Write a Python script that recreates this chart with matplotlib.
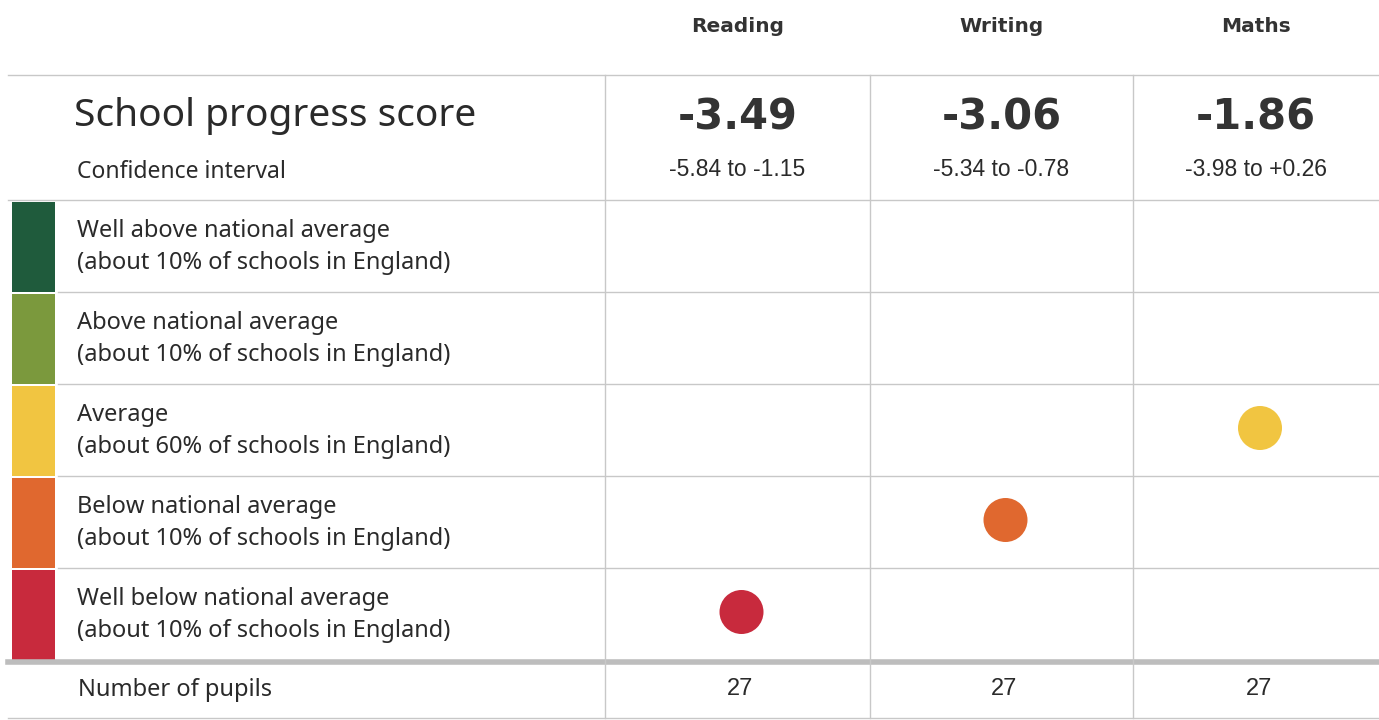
import matplotlib
matplotlib.use("Agg")
import matplotlib.pyplot as plt
from matplotlib.patches import Rectangle, Ellipse

subjects = ["Reading", "Writing", "Maths"]
scores = ["-3.49", "-3.06", "-1.86"]
ci_low = ["-5.84", "-5.34", "-3.98"]
ci_high = ["-1.15", "-0.78", "+0.26"]
pupils = [27, 27, 27]
band_names = [
    "Well above national average",
    "Above national average",
    "Average",
    "Below national average",
    "Well below national average",
]
band_share = ["10%", "10%", "60%", "10%", "10%"]
band_colors = ["#1f5b3c", "#7b993d", "#f1c541", "#e0682f", "#c82a3d"]
subject_band = [4, 3, 2]  # row index in band_names for each subject

plt.rcParams["font.family"] = ["Noto Sans", "DejaVu Sans"]
num_font = ["Liberation Sans", "DejaVu Sans"]
bold_font = ["DejaVu Sans"]
txt = "#2a2a2a"
grid = "#c8c8c8"

fig = plt.figure(figsize=(13.79, 7.2), dpi=100)
ax = fig.add_axes([0, 0, 1, 1])
ax.set_xlim(0, 1379)
ax.set_ylim(720, 0)
ax.axis("off")

# layout in pixels
col_edges = [605, 870, 1133, 1379]
col_mid = [(col_edges[i] + col_edges[i + 1]) / 2 for i in range(3)]
top_line = 75
score_bottom = 200
row_h = 92
band_top = [score_bottom + i * row_h for i in range(len(band_names))]
band_bottom = band_top[-1] + row_h
foot_bottom = 718

# header
for x, s in zip(col_mid, subjects):
    ax.text(x, 26, s, ha="center", va="center", fontsize=14.5,
            fontweight="bold", family=bold_font, color="#333333")

# horizontal lines
ax.plot([8, 1379], [top_line, top_line], color=grid, lw=1)
ax.plot([8, 1379], [score_bottom, score_bottom], color=grid, lw=1)
for t in band_top[1:]:
    ax.plot([58, 1379], [t, t], color=grid, lw=1)
ax.plot([8, 1379], [band_bottom + 2, band_bottom + 2], color="#bdbdbd", lw=4)
ax.plot([8, 1379], [foot_bottom, foot_bottom], color=grid, lw=1)

# vertical lines
for x in col_edges[:-1]:
    ax.plot([x, x], [top_line, foot_bottom], color=grid, lw=1)

# score row
ax.text(74, 116, "School progress score", ha="left", va="center",
        fontsize=28, color=txt)
ax.text(77, 172, "Confidence interval", ha="left", va="center",
        fontsize=16.5, color=txt)
for x, s, lo, hi in zip(col_mid, scores, ci_low, ci_high):
    ax.text(x, 117, s, ha="center", va="center", fontsize=30,
            fontweight="bold", family=bold_font, color="#333333")
    ax.text(x, 170, f"{lo} to {hi}", ha="center", va="center",
            fontsize=16.5, family=num_font, color=txt)

# bands
for i, (name, share, c) in enumerate(zip(band_names, band_share, band_colors)):
    y0 = band_top[i]
    ax.add_patch(Rectangle((12, y0 + 2), 43, row_h - 2, color=c, lw=0))
    ax.text(77, y0 + 31, name, ha="left", va="center", fontsize=17, color=txt)
    ax.text(77, y0 + 63, f"(about {share} of schools in England)",
            ha="left", va="center", fontsize=17, color=txt)

# dots
for j, b in enumerate(subject_band):
    yc = band_top[b] + row_h / 2 - 2
    ax.add_patch(Ellipse((col_mid[j] + 4, yc), 44, 44,
                         color=band_colors[b], lw=0))

# pupils row
ax.text(78, 690, "Number of pupils", ha="left", va="center",
        fontsize=17, color=txt)
for x, n in zip(col_mid, pupils):
    ax.text(x + 3, 689, str(n), ha="center", va="center", fontsize=17,
            family=num_font, color=txt)

fig.savefig("out.png", dpi=100, facecolor="white")
